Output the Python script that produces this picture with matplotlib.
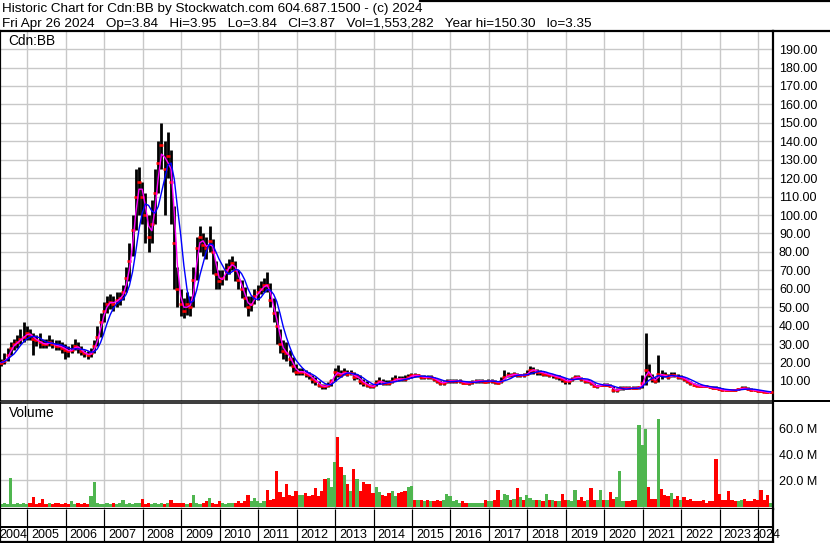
import numpy as np
import pandas as pd
import matplotlib
matplotlib.use("Agg")
import matplotlib.pyplot as plt
from matplotlib.lines import Line2D

plt.rcParams['font.family'] = ['Liberation Sans', 'DejaVu Sans']

close = [
    20, 21, 24, 28, 30, 31, 33, 34, 36,                          # 2004
    35, 33, 32, 31, 30, 30, 31, 30, 29, 29, 28, 27,              # 2005
    26, 27, 29, 28, 26, 25, 24, 25, 29, 34, 42, 48,              # 2006
    52, 53, 52, 54, 55, 58, 66, 75, 92, 110, 118, 110,           # 2007
    100, 88, 95, 112, 128, 138, 125, 132, 118, 85, 60, 52,       # 2008
    48, 52, 50, 65, 82, 88, 84, 82, 86, 80, 68, 64,              # 2009
    66, 70, 72, 74, 70, 65, 60, 55, 50, 52, 56, 58,              # 2010
    60, 62, 62, 54, 47, 40, 30, 26, 25, 22, 18, 15,              # 2011
    15, 15, 14, 13, 11, 10, 8, 7, 7, 8, 10, 15,                  # 2012
    14, 13.5, 15, 14, 14.5, 12, 12.5, 10, 9, 8, 7, 7,            # 2013
    9, 10, 9, 9, 9, 10, 11, 11, 11, 11, 12, 13,                  # 2014
    13, 13, 12, 12, 12, 12, 11, 10, 9, 9, 10, 10,                # 2015
    10, 10, 10, 9, 9, 9, 9.5, 10, 10, 10, 9.5, 10,               # 2016
    10, 9.5, 9, 10, 12, 13, 13, 14, 13, 13, 13, 14,              # 2017
    16, 16, 15, 15, 14, 14, 13, 13, 12, 12, 11, 10,              # 2018
    10, 11, 12, 12, 11, 10, 10, 9, 7, 7, 8, 8,                   # 2019
    8, 7, 5, 5, 6, 6, 6, 6, 6, 6, 6.5, 9,                        # 2020
    16, 14, 11, 10, 14, 13, 13, 12, 13, 13, 12, 12,              # 2021
    11, 10, 9, 8, 7.5, 7, 7, 7, 6.5, 6, 6, 5.5,                  # 2022
    5, 5, 5, 5, 5, 5.5, 6, 6, 5.5, 5, 5, 4.5,                    # 2023
    4.5, 4, 3.8, 3.9,                                            # 2024
]
high = [
    22, 25, 28, 31, 33, 35, 38, 42, 40,
    38, 36, 35, 36, 33, 33, 35, 33, 32, 32, 31, 30,
    29, 30, 33, 31, 29, 27, 26, 28, 32, 40, 47, 53,
    56, 57, 56, 58, 58, 62, 72, 85, 100, 125, 126, 118,
    112, 100, 108, 125, 140, 150, 140, 145, 135, 105, 72, 60,
    55, 58, 56, 72, 88, 94, 90, 88, 94, 87, 75, 70,
    70, 74, 76, 78, 75, 70, 65, 61, 56, 56, 60, 62,
    64, 66, 69, 63, 55, 48, 38, 32, 31, 27, 23, 19,
    17, 17, 16, 15, 13, 12, 10, 8.5, 8.5, 9.5, 11, 17,
    18.5, 16, 17, 16, 16, 15, 14, 13, 11, 10, 8.5, 8.5,
    10.5, 12, 11, 10.5, 10.5, 12, 13, 12.5, 12.5, 13, 14, 14.5,
    14.5, 14, 13.5, 13, 13.5, 13, 12, 11, 10.5, 10, 11, 11,
    11, 11, 11, 10, 10, 10, 10.5, 11, 11, 11, 10.5, 11,
    11, 10.5, 10, 12, 16, 15, 14.5, 15, 14.5, 14, 14.5, 16,
    18, 17.5, 16.5, 16, 15.5, 15, 14, 14, 13.5, 13, 12, 11.5,
    11, 12, 13.5, 13.5, 12, 11, 11, 10, 9, 8, 8.5, 9,
    9, 8.5, 7.5, 6, 7, 7, 7, 7, 7, 7, 7.5, 13,
    36, 19, 14, 12, 24, 16, 15, 14, 15, 15, 14, 13,
    12, 11, 10, 9, 8.5, 8, 8, 8, 7.5, 7, 7, 6.5,
    6, 5.8, 5.8, 5.8, 5.8, 6.3, 7, 7, 6.5, 6, 5.8, 5.2,
    5.3, 4.8, 4.2, 4.1,
]
low = [
    18, 19, 21, 24, 27, 28, 30, 31, 32,
    32, 24, 29, 28, 28, 28, 29, 28, 27, 27, 25, 22,
    23, 25, 27, 25, 24, 23, 22, 23, 25, 29, 34, 42,
    47, 49, 48, 50, 51, 54, 58, 64, 78, 92, 100, 95,
    85, 80, 85, 95, 112, 125, 100, 120, 95, 60, 50, 45,
    44, 46, 45, 50, 65, 80, 78, 76, 80, 68, 60, 60,
    62, 65, 68, 70, 64, 60, 55, 50, 45, 48, 52, 54,
    57, 58, 58, 50, 42, 30, 25, 22, 21, 18, 15, 13,
    13, 13, 12, 11, 9, 8, 6.5, 5.5, 5.8, 6.5, 7.5, 10,
    12, 12, 13, 12.5, 13, 10.5, 11, 8.5, 7.5, 6.5, 6, 6,
    7.5, 8.5, 8, 8, 8, 9, 10, 10, 10, 10, 11, 11.5,
    12, 12, 11, 11, 11, 11, 10, 9, 8, 8, 9, 9,
    9, 9, 9, 8.5, 8.5, 8, 8.5, 9, 9, 9, 9, 9,
    9, 8.5, 8.5, 9, 11, 12, 12, 12.5, 12, 12, 12, 13,
    14, 14, 13.5, 13, 12.5, 12.5, 12, 11.5, 11, 10.5, 9.5, 8.5,
    8.5, 10, 11, 11, 10, 9, 9, 8, 6.5, 6, 7, 7.5,
    7, 6.5, 4, 4, 5, 5, 5.5, 5.5, 5.5, 5.5, 5.5, 6,
    8, 12, 9.5, 9, 9.5, 11, 12, 11, 12, 12, 11, 11,
    10, 9, 8, 7.5, 7, 6.5, 6.5, 6.5, 6, 5.5, 5.5, 5,
    4.5, 4.5, 4.5, 4.5, 4.5, 5, 5.5, 5.5, 5, 4.5, 4.5, 4.2,
    4.2, 3.8, 3.5, 3.4,
]
# Volumen in Mio. Stueck
volume = [
    2, 3, 2, 22, 2, 3, 2, 3, 2,
    3, 7, 2, 3, 6, 2, 3, 2, 3, 3, 2, 3,
    2, 4, 2, 3, 2, 3, 2, 8, 19, 3, 2, 2,
    3, 2, 3, 2, 3, 5, 2, 3, 2, 3, 3, 6,
    2, 3, 2, 3, 2, 3, 2, 3, 5, 3, 3, 3,
    3, 2, 3, 8.5, 3, 2, 3, 4, 6.7, 3, 2, 4,
    3, 2, 3, 3, 3, 4.6, 3, 4, 8.5, 4, 6.4, 4,
    3, 4, 12.3, 5, 6, 27, 11, 7, 17.4, 9, 8, 11.5,
    9, 9, 10, 8, 9, 14.4, 8, 12, 21, 22, 15, 34,
    53, 30, 24, 17, 12, 29, 21, 12, 19, 17, 17, 10,
    15, 11, 9, 8, 10, 12, 8, 10, 11, 12, 15, 15.4,
    5, 5, 5, 4, 5, 4, 4, 5, 4, 5, 9.7, 8,
    4, 5, 3, 4, 3, 3, 3, 3, 3, 3, 5, 4,
    4, 5, 12.3, 5, 9.7, 8.5, 5, 6, 14.4, 7, 5, 8.5,
    6.5, 5, 5, 5, 4, 9.7, 5, 5, 4, 4, 9.7, 5,
    5, 4, 12.3, 5, 7, 4, 5, 14.4, 5, 5, 12.8, 5,
    5, 11, 6, 7, 27, 4, 4, 4, 5, 5, 62, 47,
    59, 15, 6, 6, 67, 13.6, 9, 8, 10, 6, 8, 5,
    7, 5, 6, 4, 4, 4, 5, 3, 4, 4, 36, 9.7,
    5, 5, 11.8, 5, 4, 4, 5, 6, 4, 4, 6, 5,
    12.3, 5, 8.5, 3,
]

years = list(range(2004, 2025))
price_ticks = list(range(10, 200, 10))
vol_ticks = [20, 40, 60]

W, H = 830, 543
PX_YEAR = 38.47
X0 = 2005 - 27.3 / PX_YEAR
X1 = X0 + 773 / PX_YEAR

t = 2004.32 + np.arange(len(close)) / 12.0
c = pd.Series(close, dtype=float)
mid = (pd.Series(high, dtype=float) + pd.Series(low, dtype=float)) / 2
ma_short = c.rolling(2, min_periods=1).mean()
ma_long = c.rolling(5, min_periods=1).mean()
diff = c.diff().fillna(0)
up = (diff > 0) | ((diff == 0) & (c >= mid))
vcol = np.where(up, '#4fb64f', '#ff0000')

GRID = '#c8c8c8'
PX = 0.72  # 1 px in pt


def fy(p):
    return 1 - p / H


fig = plt.figure(figsize=(W / 100, H / 100), dpi=100)
axw = 773 / W

# --- Kurs-Panel
ax = fig.add_axes([0, fy(400.5), axw, (400.5 - 31) / H])
ax.set_xlim(X0, X1)
ax.set_ylim(-0.6, 199.8)
ax.set_xticks(years[1:])
ax.set_yticks(price_ticks)
ax.grid(True, color=GRID, lw=1.4 * PX)
ax.set_axisbelow(True)
ax.yaxis.tick_right()
ax.set_yticklabels([f'{v:.2f}' for v in price_ticks])
ax.tick_params(axis='y', length=0, pad=4.3, labelsize=9)
ax.tick_params(axis='x', length=0, labelbottom=False)
ax.vlines(t, low, high, color='black', lw=2.8 * PX, zorder=2)
ax.plot(t, close, ls='none', marker='_', ms=3.5, mew=2.6 * PX, color='red', zorder=3)
ax.plot(t, ma_short, color='#ff00ff', lw=1.4 * PX, zorder=4)
ax.plot(t, ma_long, color='#0000ff', lw=1.4 * PX, zorder=5)
for s in ['top', 'left', 'right']:
    ax.spines[s].set_linewidth(2.2 * PX)
ax.spines['bottom'].set_linewidth(1.5 * PX)
ax.text(8 / 773, 1 - 10 / 369.5, 'Cdn:BB', transform=ax.transAxes,
        ha='left', va='center', fontsize=9.8)

# --- Volumen-Panel
axv = fig.add_axes([0, fy(509), axw, (509 - 402.5) / H])
axv.set_xlim(X0, X1)
axv.set_ylim(-1.9, 79.6)
axv.set_xticks(years[1:])
axv.set_yticks(vol_ticks)
axv.grid(True, color=GRID, lw=1.4 * PX)
axv.set_axisbelow(True)
axv.yaxis.tick_right()
axv.set_yticklabels([f'{v:.1f} M' for v in vol_ticks])
axv.tick_params(axis='y', length=0, pad=4.3, labelsize=9)
axv.tick_params(axis='x', length=0, labelbottom=False)
axv.bar(t, volume, width=1 / 12, color=vcol, linewidth=0, zorder=2)
axv.spines['top'].set_linewidth(1.5 * PX)
for s in ['bottom', 'left', 'right']:
    axv.spines[s].set_linewidth(2.2 * PX)
axv.text(9 / 773, 1 - 10.5 / 106.5, 'Volume', transform=axv.transAxes,
         ha='left', va='center', fontsize=9.8)

# --- Jahresleiste
axb = fig.add_axes([0, fy(542), axw, (542 - 509) / H])
axb.set_xlim(X0, X1)
axb.set_ylim(0, 1)
axb.set_xticks([])
axb.set_yticks([])
axb.vlines(years[1:], 0, 1, color='black', lw=1.2 * PX)
axb.axhline(15 / 33, color='black', lw=2 * PX)
axb.spines['top'].set_visible(False)
for s in ['bottom', 'left', 'right']:
    axb.spines[s].set_linewidth(2.2 * PX)
for yr in years:
    if yr == 2004:
        xpos = X0 - 1 / PX_YEAR
    elif yr == 2024:
        xpos = X0 + 752 / PX_YEAR
    else:
        xpos = yr + 4 / PX_YEAR
    axb.text(xpos, 7.5 / 33, str(yr), ha='left', va='center', fontsize=9,
             clip_on=False)

# --- Kopfzeile und Rahmen
fig.text(2 / W, fy(9), 'Historic Chart for Cdn:BB by Stockwatch.com 604.687.1500 - (c) 2024',
         ha='left', va='center', fontsize=9.7)
fig.text(2 / W, fy(23.5),
         'Fri Apr 26 2024   Op=3.84   Hi=3.95   Lo=3.84   Cl=3.87   '
         'Vol=1,553,282   Year hi=150.30   lo=3.35',
         ha='left', va='center', fontsize=9.7)
fig.add_artist(Line2D([420 / W, 1], [fy(0.8), fy(0.8)], color='black', lw=2.2 * PX))
fig.add_artist(Line2D([axw, 1], [fy(400.5), fy(400.5)], color='black', lw=2 * PX))
fig.add_artist(Line2D([axw, 1], [fy(30.5), fy(30.5)], color='black', lw=2.2 * PX))

fig.savefig('out.png', dpi=100)
print("Plotting done")
